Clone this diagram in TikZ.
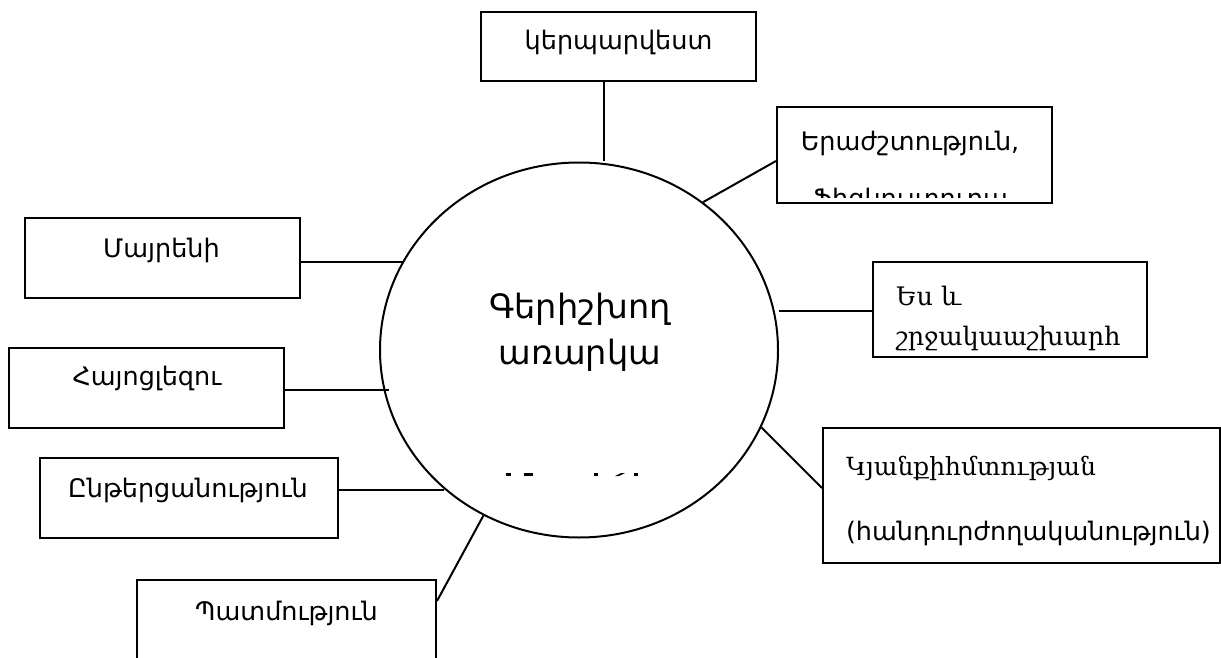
\documentclass[tikz,border=0pt]{standalone}
\usepackage{fontspec}
\setmainfont{DejaVu Sans}
\newfontfamily\armserif{DejaVu Serif}
\usetikzlibrary{shapes.geometric,calc}

\tikzset{every picture/.style={line width=2pt}}
\tikzset{
  subjbox/.style={draw, rectangle, inner sep=0pt},
  lbl/.style={anchor=base, inner sep=0pt, font=\fontsize{25.5}{30}\selectfont},
  lblw/.style={anchor=base west, inner sep=0pt, font=\fontsize{25.5}{30}\selectfont},
  slbl/.style={anchor=base west, inner sep=0pt, font=\armserif\fontsize{25.5}{30}\selectfont},
  biglbl/.style={anchor=base, inner sep=0pt, font=\fontsize{33.5}{46}\selectfont},
}

\begin{document}
\begin{tikzpicture}[x=1pt,y=1pt,yscale=-1,xscale=1]
\clip (0,0) rectangle (1221,658);
\fill[white] (0,0) rectangle (1221,658);

%Shape: Ellipse
\node[draw, ellipse, inner sep=0pt, minimum width=398pt, minimum height=375pt] (subj) at (579,350) {};

%Shape: Rectangle
\node[subjbox, minimum width=275pt, minimum height=69pt] (art) at (618.5,46.5) {};
%Shape: Rectangle
\node[subjbox, minimum width=275pt, minimum height=96pt] (mus) at (914.5,155) {};
%Shape: Rectangle
\node[subjbox, minimum width=274pt, minimum height=95pt] (me) at (1010,309.5) {};
%Shape: Rectangle
\node[subjbox, minimum width=397pt, minimum height=135pt] (life) at (1021.5,495.5) {};
%Shape: Rectangle
\node[subjbox, minimum width=275pt, minimum height=80pt] (moth) at (162.5,258) {};
%Shape: Rectangle
\node[subjbox, minimum width=275pt, minimum height=80pt] (arm) at (146.5,388) {};
%Shape: Rectangle
\node[subjbox, minimum width=298pt, minimum height=80pt] (read) at (189,498) {};
%Shape: Rectangle
\node[subjbox, minimum width=299pt, minimum height=100pt] (hist) at (286.5,630) {};

% Text Node
\node[biglbl] (subjA) at (580,318) {Գերիշխող};
% Text Node
\node[biglbl] (subjB) at (580,364) {առարկա};
% cut third line
\foreach \xa/\xb in {506/511,524/533,594/598,634/638}
  \fill (\xa,473) rectangle (\xb,476);
\fill (615,476) -- (621,473) -- (625,473) -- (619,476) -- cycle;

% Text Node
\node[lbl] (artT) at (618.5,50) {կերպարվեստ};
% Text Node
\begin{scope}
\clip (mus.north west) rectangle ($(mus.south east)+(0,-7)$);
\node[lbl] (musA) at (910,150) {Երաժշտություն,};
\node[lbl] (musB) at (910,207) {Ֆիզկուլտուրա};
\end{scope}
% Text Node
\node[slbl] (meA) at (895,305) {Ես և};
\node[slbl] (meB) at (895,345) {շրջակաաշխարհ};
% Text Node
\node[slbl, font=\armserif\fontsize{25}{30}\selectfont] (lifeA) at (845,475) {Կյանքիհմտության};
\node[lblw] (lifeB) at (845,540) {(հանդուրժողականություն)};
% Text Node
\node[lbl] (mothT) at (161.5,257) {Մայրենի};
% Text Node
\node[lbl] (armT) at (147,385) {Հայոցլեզու};
% Text Node
\node[lbl] (readT) at (188,497) {Ընթերցանություն};
% Text Node
\node[lbl] (histT) at (286.5,620) {Պատմություն};

%Straight Lines
\coordinate (artP) at ($(art.south)+(-14.5,0)$);
\draw (artP) -- (artP |- subj.north);
\draw (subj.50) -- ($(mus.west)+(0,6)$);
\coordinate (meP) at ($(me.west)+(0,1.5)$);
\draw (meP) -- (meP -| subj.east);
\draw (subj.-23) -- ($(life.west)+(0,-7.5)$);
\coordinate (mothP) at ($(moth.east)+(0,4)$);
\draw (mothP) -- (mothP -| subj.153);
\coordinate (armP) at ($(arm.east)+(0,2)$);
\coordinate (armQ) at ($(subj.west)+(10,0)$);
\draw (armP) -- (armP -| armQ);
\coordinate (readP) at ($(read.east)+(0,-8)$);
\draw (readP) -- (readP -| subj.226);
\draw ($(hist.north east)+(0,22)$) -- (subj.240);

\end{tikzpicture}
\end{document}
